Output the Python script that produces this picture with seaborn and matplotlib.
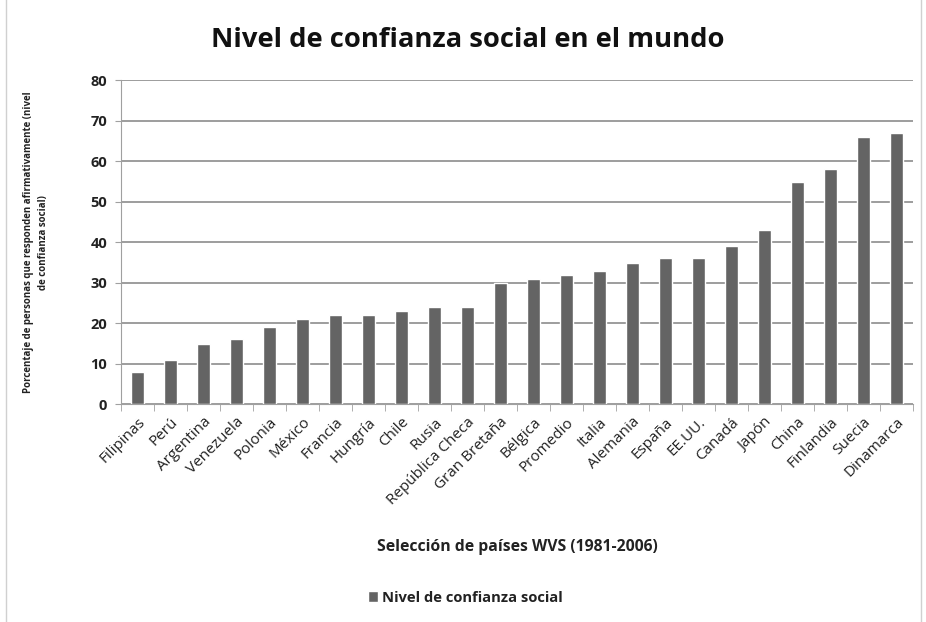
import matplotlib
matplotlib.use("Agg")
import matplotlib.pyplot as plt
import seaborn as sns
import pandas as pd
import numpy as np
from matplotlib.patches import Rectangle

paises = ["Filipinas", "Perú", "Argentina", "Venezuela", "Polonia", "México", "Francia",
          "Hungría", "Chile", "Rusia", "República Checa", "Gran Bretaña", "Bélgica",
          "Promedio", "Italia", "Alemania", "España", "EE.UU.", "Canadá", "Japón",
          "China", "Finlandia", "Suecia", "Dinamarca"]
confianza = [8, 11, 15, 16, 19, 21, 22, 22, 23, 24, 24, 30, 31, 32, 33, 35, 36, 36, 39, 43,
             55, 58, 66, 67]
serie = "Nivel de confianza social"

df = pd.DataFrame({"pais": paises, "valor": confianza})

sns.set_style("white")
plt.rcParams['font.family'] = ['Open Sans', 'DejaVu Sans']

fig = plt.figure(figsize=(9.26, 6.22), dpi=100)
ax = fig.add_axes([0.1307, 0.350, 0.855, 0.521])

sns.barplot(data=df, x="pais", y="valor", color="#646464", saturation=1, width=0.4,
            ax=ax, label=serie)

ax.set_ylim(0, 80)
ax.set_xlim(-0.5, len(paises) - 0.5)
ax.set_yticks(range(0, 81, 10))
ax.yaxis.grid(True, color="#8c8c8c", linewidth=1.2)
ax.set_axisbelow(True)
for s in ["top", "right"]:
    ax.spines[s].set_visible(False)
ax.spines["left"].set_color("#a0a0a0")
ax.spines["bottom"].set_color("#a0a0a0")

ax.tick_params(axis="y", labelsize=10.5, left=True, length=4, color="#a0a0a0", pad=6)
for lbl in ax.get_yticklabels():
    lbl.set_fontweight("bold")
    lbl.set_color("#222222")
ax.set_xticks(range(len(paises)))
ax.set_xticklabels(paises, rotation=45, ha="right", rotation_mode="anchor", fontsize=11,
                   color="#222222")
ax.tick_params(axis="x", bottom=False, pad=4)
ax.set_xticks(np.arange(-0.5, len(paises), 1), minor=True)
ax.tick_params(axis="x", which="minor", bottom=True, length=5, color="#a0a0a0")

ax.set_xlabel("Selección de países WVS (1981-2006)", fontsize=11.3, fontweight="bold",
              labelpad=22, color="#222222")
ax.set_ylabel("Porcentaje de personas que responden afirmativamente (nivel\nde confianza social)",
              fontsize=7.0, fontweight="bold", color="#222222", labelpad=30, y=0.5,
              linespacing=1.5)

fig.suptitle("Nivel de confianza social en el mundo", x=0.505, y=0.957, fontsize=19.7,
             fontweight="bold", color="#111111")

leg = ax.legend(loc="center", bbox_to_anchor=(0.5025, 0.039), bbox_transform=fig.transFigure,
                frameon=False, fontsize=10.6, handlelength=0.7, handleheight=0.7,
                handletextpad=0.3)
for t in leg.get_texts():
    t.set_fontweight("bold")
    t.set_color("#222222")

fig.patches.append(Rectangle((0.006, -0.01), 0.989, 1.02, transform=fig.transFigure,
                             fill=False, edgecolor="#d0d0d0", linewidth=1.0))

fig.savefig("out.png", dpi=100)
